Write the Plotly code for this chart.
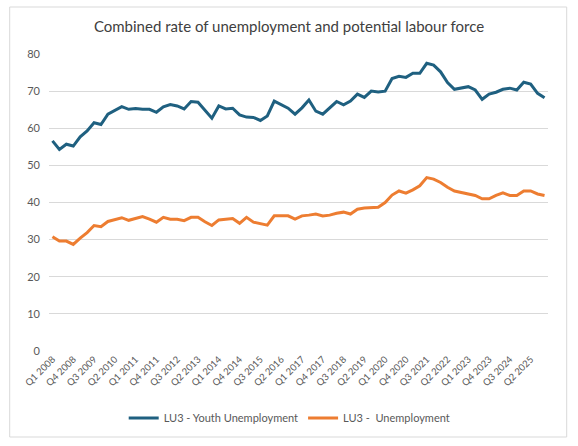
import plotly.graph_objects as go

quarters = [f"Q{q} {y}" for y in range(2008, 2026) for q in range(1, 5)]

youth = [56.6, 54.3, 55.7, 55.2, 57.7, 59.3, 61.5, 61.0, 63.8, 64.7,
         65.8, 65.1, 65.3, 65.1, 65.1, 64.3, 65.8, 66.4, 66.0, 65.2,
         67.2, 67.0, 64.9, 62.7, 66.0, 65.2, 65.4, 63.6, 63.0, 62.9,
         62.1, 63.3, 67.3, 66.3, 65.4, 63.8, 65.5, 67.6, 64.6, 63.8,
         65.5, 67.2, 66.3, 67.3, 69.2, 68.3, 70.0, 69.8, 70.0, 73.4,
         74.0, 73.7, 74.8, 74.8, 77.5, 77.0, 75.2, 72.3, 70.5, 70.9,
         71.2, 70.3, 67.8, 69.2, 69.7, 70.5, 70.8, 70.3, 72.4, 71.9,
         69.4, 68.2]

unemp = [30.8, 29.6, 29.6, 28.7, 30.4, 31.9, 33.8, 33.5, 34.9, 35.3,
         35.9, 35.2, 35.6, 36.2, 35.5, 34.7, 36.0, 35.5, 35.5, 35.1,
         36.0, 36.0, 34.8, 33.8, 35.3, 35.5, 35.7, 34.4, 36.0, 34.7,
         34.4, 33.9, 36.4, 36.4, 36.4, 35.5, 36.4, 36.6, 36.9, 36.4,
         36.6, 37.1, 37.4, 36.9, 38.2, 38.5, 38.5, 38.7, 40.0, 42.0,
         43.1, 42.5, 43.4, 44.5, 46.7, 46.3, 45.4, 44.1, 43.1, 42.7,
         42.5, 41.9, 41.0, 41.0, 41.9, 42.6, 41.9, 41.9, 43.1, 43.1,
         42.3, 41.9]

tick_labels = quarters[::3]
y_ticks = [0, 10, 20, 30, 40, 50, 60, 70, 80]

W, H = 578, 446
L, R, T, B = 49.3, 548.3, 54, 351

fig = go.Figure()
fig.add_trace(go.Scatter(x=quarters, y=youth, mode="lines",
                         name="LU3 - Youth Unemployment",
                         line=dict(color="#1F6080", width=3)))
fig.add_trace(go.Scatter(x=quarters, y=unemp, mode="lines",
                         name="LU3 -\u00a0 Unemployment",
                         line=dict(color="#ED7D31", width=3)))

pw, ph = R - L, B - T
def px(x):
    return (x - L) / pw
def py(y):
    return (B - y) / ph

fig.update_layout(
    width=W, height=H,
    margin=dict(l=L, r=W - R, t=T, b=H - B, pad=0),
    paper_bgcolor="white", plot_bgcolor="white",
    font=dict(family="Lato, Carlito, Calibri, sans-serif", color="#595959", size=11),
    title=dict(text="Combined rate of unemployment and potential labour force",
               x=289 / W, xanchor="center", xref="container",
               y=1 - 27 / H, yanchor="middle", yref="container",
               font=dict(size=15, color="#404040")),
    showlegend=True,
    legend=dict(orientation="h", x=px(290), xanchor="center",
                y=py(418), yanchor="middle",
                font=dict(size=11, color="#595959"),
                itemwidth=30, tracegroupgap=0),
    xaxis=dict(type="category", range=[-0.5, len(quarters) - 0.5],
               tickmode="array", tickvals=tick_labels, ticktext=tick_labels,
               tickangle=-45, showgrid=False, showline=False, ticks="",
               zeroline=False, tickfont=dict(size=9.5, color="#595959")),
    yaxis=dict(range=[0, 80], tickvals=y_ticks, showgrid=True,
               gridcolor="#D9D9D9", gridwidth=1, zeroline=False,
               showline=False, ticks="", ticklabelstandoff=8,
               tickfont=dict(size=11, color="#595959")),
    shapes=[dict(type="rect", xref="paper", yref="paper",
                 x0=px(10), x1=px(567), y0=py(437), y1=py(7),
                 line=dict(color="#D9D9D9", width=1), layer="below")],
)

fig.write_html("out.html")
